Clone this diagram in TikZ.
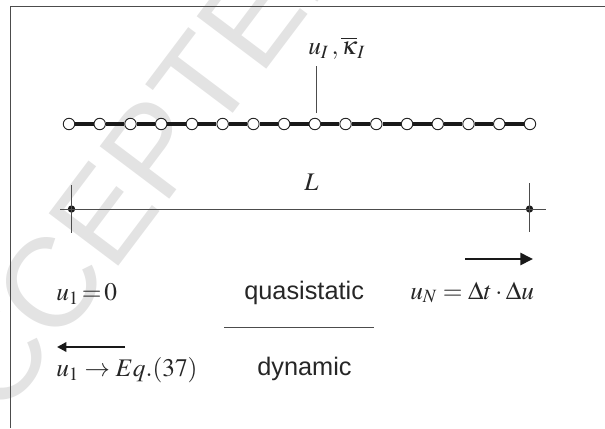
\documentclass[tikz,border=0pt]{standalone}
\usepackage{mathptmx}
\usepackage[no-math]{fontspec}
\setsansfont{Liberation Sans}
\usepackage{amsmath}
\usetikzlibrary{positioning, arrows.meta}
\tikzset{
    nodo_hueco/.style={circle, draw=black!85, fill=white, line width=0.7pt, inner sep=0pt, minimum size=8.6pt},
    nodo_lleno/.style={circle, fill=black!90, inner sep=0pt, minimum size=5.5pt},
    linea_fina/.style={draw=black!70, line width=0.7pt},
    barra/.style={draw=black!90, line width=3.4pt},
    flecha/.style={draw=black!90, line width=1.9pt, -{Triangle[length=9.5pt, width=9pt]}},
    texto_mate/.style={anchor=base west, inner sep=0pt, text=black!85, font=\fontsize{19}{23}\selectfont},
    texto_sans/.style={anchor=base west, inner sep=0pt, text=black!85, font=\fontsize{19}{23}\selectfont\sffamily},
    marca_agua/.style={rotate=53, anchor=base west, inner sep=0pt, text=black!11, font=\fontsize{95}{95}\selectfont\sffamily}
}
\begin{document}
\begin{tikzpicture}[x=0.75pt, y=-0.75pt]
            \useasboundingbox (0,0) rectangle (605,428);
            \begin{scope}
                \clip (0,0) rectangle (605,428);
                \node[marca_agua] (agua) at (2,421) {CCEPTED};
            \end{scope}

            \coordinate (marco_a) at (10.5,428);
            \coordinate (marco_b) at (10.5,6.5);
            \coordinate (marco_c) at (605,6.5);
            \draw[linea_fina] (marco_a) -- (marco_b) -- (marco_c);

            \foreach \i in {1,...,16}
                \node[nodo_hueco] (n\i) at ({69+30.73*(\i-1)},124) {};
            \foreach \i [remember=\i as \j (initially 1)] in {2,...,16}
                \draw[barra] (n\j) -- (n\i);

            \node[texto_mate] (etiqueta) at (308,55) {$u_{I}\,,\overline{\kappa}_{I}$};
            \coordinate (marca_i) at (316,113);
            \coordinate (marca_s) at (316,66);
            \draw[linea_fina] (marca_i) -- (marca_s);

            \node[nodo_lleno] (izq) at (71.5,209) {};
            \node[nodo_lleno] (der) at (529.5,209) {};
            \coordinate (cota_a) at (60,209);
            \coordinate (cota_b) at (546,209);
            \coordinate (izq_s) at (71.5,185);
            \coordinate (izq_i) at (71.5,233);
            \coordinate (der_s) at (529.5,183);
            \coordinate (der_i) at (529.5,232);
            \draw[linea_fina] (cota_a) -- (cota_b);
            \draw[linea_fina] (izq_s) -- (izq_i);
            \draw[linea_fina] (der_s) -- (der_i);
            \node[texto_mate] (largo) at (304,190) {$L$};

            \coordinate (der_f0) at (465,259);
            \coordinate (der_f1) at (533,259);
            \draw[flecha] (der_f0) -- (der_f1);
            \coordinate (izq_f0) at (125,347);
            \coordinate (izq_f1) at (57,347);
            \draw[flecha, -{Triangle[length=7pt, width=7pt]}, line width=1.7pt] (izq_f0) -- (izq_f1);

            \node[texto_mate] (u_uno) at (56,300.5) {$u_{1}\!=\!0$};
            \node[texto_mate] (u_ene) at (410,299) {$u_{N}=\Delta t\cdot\Delta u$};
            \node[texto_mate] (u_ec) at (56,376.5) {$u_{1}\rightarrow Eq.(37)$};

            \node[texto_sans] (cuasi) at (244,299) {quasistatic};
            \node[texto_sans] (dinamico) at (257,375.5) {dynamic};
            \coordinate (raya_a) at (224,327);
            \coordinate (raya_b) at (374,327);
            \draw[linea_fina] (raya_a) -- (raya_b);
        \end{tikzpicture}
\end{document}
